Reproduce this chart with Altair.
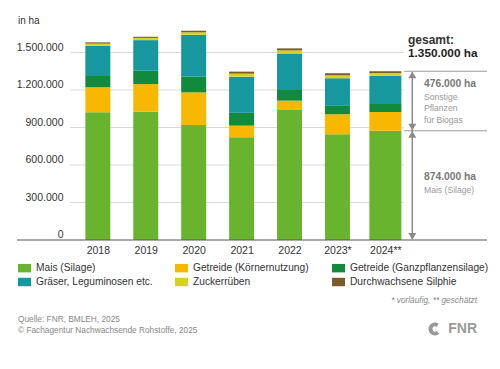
import altair as alt
import pandas as pd

# ---------------- data ----------------
years = ["2018", "2019", "2020", "2021", "2022", "2023*", "2024**"]
categories = [
    "Mais (Silage)",
    "Getreide (Körnernutzung)",
    "Getreide (Ganzpflanzensilage)",
    "Gräser, Leguminosen etc.",
    "Zuckerrüben",
    "Durchwachsene Silphie",
]
colors = ["#69b42e", "#f8b700", "#128a3b", "#17979e", "#d5d31a", "#7b5a2c"]
mais = [1022000, 1026000, 920000, 822000, 1040000, 846000, 874000]
koerner = [200000, 221000, 261000, 93000, 75000, 160000, 150000]
gps = [90000, 107000, 125000, 104000, 85000, 67000, 64000]
graeser = [242000, 245000, 336000, 288000, 293000, 221000, 227000]
zucker = [17000, 18000, 20000, 24000, 24000, 24000, 22000]
silphie = [10000, 9000, 12000, 16000, 16000, 16000, 13000]
bar_widths = [25, 25, 25, 25, 25, 25, 32]
y_ticks = [0, 300000, 600000, 900000, 1200000, 1500000]

series = [mais, koerner, gps, graeser, zucker, silphie]
rows = []
for ci, (cat, vals) in enumerate(zip(categories, series)):
    for yi, (yr, v) in enumerate(zip(years, vals)):
        rows.append({"idx": yi, "year": yr, "cat": cat, "ord": ci, "value": v, "bw": bar_widths[yi]})
df = pd.DataFrame(rows)

total_last = sum(s[-1] for s in series)
mais_last = mais[-1]

# legend is laid out column by column: reorder so rows read like the reference
legend_order = [categories[i] for i in (0, 3, 1, 4, 2, 5)]
legend_colors = [colors[i] for i in (0, 3, 1, 4, 2, 5)]

FONT = "Liberation Sans, Arial, sans-serif"

W, H = 417, 212.5
xscale = alt.Scale(domain=[-0.4766, 8.0164], nice=False, zero=False)
yscale = alt.Scale(domain=[0, 1700000], nice=False, zero=True)

year_expr = "[" + ",".join("'%s'" % y for y in years) + "][datum.value]"
num_expr = "replace(replace(format(datum.value, ',d'), ',', '.'), ',', '.')"

yaxis = alt.Axis(
    values=y_ticks,
    labelExpr=num_expr,
    grid=False, domain=False, ticks=False, tickSize=0,
    labelPadding=7, labelBaseline="alphabetic", labelOffset=-2.5,
    labelOverlap=False, labelFont=FONT, labelFontSize=10.5,
    labelColor="#333333", title=None,
)

# ---------------- layers ----------------
grid = alt.Chart(pd.DataFrame({"v": y_ticks[1:]})).mark_rule(
    color="#d9d9d9", strokeWidth=1
).encode(
    y=alt.Y("v:Q", scale=yscale, axis=yaxis),
    x=alt.value(0),
    x2=alt.value(334),
)

bars = alt.Chart(df).mark_bar(strokeWidth=0).encode(
    x=alt.X(
        "idx:Q",
        scale=xscale,
        axis=alt.Axis(
            values=list(range(len(years))),
            labelExpr=year_expr,
            grid=False, domain=False, ticks=False, tickSize=0,
            labelPadding=5, labelFlush=False, labelOverlap=False,
            labelFont=FONT, labelFontSize=10.5, labelColor="#333333",
            title=None,
        ),
    ),
    y=alt.Y("value:Q", stack="zero", scale=yscale, axis=yaxis),
    color=alt.Color(
        "cat:N",
        scale=alt.Scale(domain=legend_order, range=legend_colors),
        legend=alt.Legend(
            orient="none", legendX=-52, legendY=234,
            columns=3, gridAlign="all", columnPadding=0, rowPadding=2,
            symbolType="M-1,-0.65H1V0.65H-1Z", symbolSize=169,
            symbolStrokeWidth=0, symbolOpacity=1,
            labelFont=FONT, labelFontSize=10.2, labelColor="#333333",
            labelOffset=5, labelLimit=0, title=None, padding=0,
        ),
    ),
    order=alt.Order("ord:Q", sort="ascending"),
    size=alt.Size("bw:Q", scale=None, legend=None),
)

baseline = alt.Chart(pd.DataFrame({"v": [0]})).mark_rule(
    color="#555555", strokeWidth=1.2
).encode(y=alt.Y("v:Q", scale=yscale, axis=yaxis), x=alt.value(-53), x2=alt.value(417))

reflines = alt.Chart(pd.DataFrame({"v": [total_last, mais_last]})).mark_rule(
    color="#9a9a9a", strokeWidth=1
).encode(y=alt.Y("v:Q", scale=yscale, axis=yaxis), x=alt.value(334), x2=alt.value(417))

arrow_df = pd.DataFrame({"a": [total_last - 8000, mais_last + 8000], "b": [mais_last + 8000, 8000]})
shafts = alt.Chart(arrow_df).mark_rule(color="#8a8a8a", strokeWidth=1.5).encode(
    y=alt.Y("a:Q", scale=yscale, axis=yaxis), y2="b:Q", x=alt.value(342.3)
)
up_heads = alt.Chart(pd.DataFrame({"v": [total_last, mais_last]})).mark_point(
    shape="triangle-up", filled=True, size=64, opacity=1, color="#8a8a8a", yOffset=3.6
).encode(y=alt.Y("v:Q", scale=yscale, axis=yaxis), x=alt.value(342.3))
down_heads = alt.Chart(pd.DataFrame({"v": [mais_last, 0]})).mark_point(
    shape="triangle-down", filled=True, size=64, opacity=1, color="#8a8a8a", yOffset=-3.6
).encode(y=alt.Y("v:Q", scale=yscale, axis=yaxis), x=alt.value(342.3))

# ---------------- texts ----------------
texts = [
    # text, x, y, size, weight, color, align, style
    ("in ha", -52, -6.5, 10, "normal", "#333333", "left", "normal"),
    ("gesamt:", 338, 12.5, 12, "bold", "#333333", "left", "normal"),
    ("1.350.000 ha", 338, 25.8, 11.8, "bold", "#222222", "left", "normal"),
    ("476.000 ha", 354, 56.2, 10.3, "bold", "#777777", "left", "normal"),
    ("Sonstige", 354, 69.2, 8.6, "normal", "#999999", "left", "normal"),
    ("Pflanzen", 354, 80.8, 8.6, "normal", "#999999", "left", "normal"),
    ("für Biogas", 354, 92.5, 8.6, "normal", "#999999", "left", "normal"),
    ("874.000 ha", 354, 149.2, 10.3, "bold", "#777777", "left", "normal"),
    ("Mais (Silage)", 354, 162.5, 8.6, "normal", "#999999", "left", "normal"),
    ("* vorläufig, ** geschätzt", 407, 273.5, 8.3, "normal", "#888888", "right", "italic"),
    ("Quelle: FNR, BMLEH, 2025", -52, 292.5, 8.3, "normal", "#888888", "left", "normal"),
    ("© Fachagentur Nachwachsende Rohstoffe, 2025", -52, 303.5, 8.3, "normal", "#888888", "left", "normal"),
    ("FNR", 407, 301.5, 14, "bold", "#9a9a9a", "right", "normal"),
]
text_layers = []
for t, x, y, s, w, c, a, st in texts:
    text_layers.append(
        alt.Chart(pd.DataFrame({"t": [t]})).mark_text(
            fontSize=s, fontWeight=w, color=c, font=FONT, align=a, baseline="middle", fontStyle=st
        ).encode(text="t:N", x=alt.value(x), y=alt.value(y))
    )

logo = alt.Chart(pd.DataFrame({"t": [0]})).mark_arc(
    radius=6.5, radius2=2.6, theta=2.4, theta2=6.9, color="#9a9a9a"
).encode(x=alt.value(365), y=alt.value(301.5))

chart = alt.layer(
    grid, bars, baseline, reflines, shafts, up_heads, down_heads, logo, *text_layers
).properties(
    width=W,
    height=H,
    padding={"left": 62, "top": 19.5, "right": 5, "bottom": 121},
    autosize=alt.AutoSizeParams(type="none"),
    background="white",
).configure_view(stroke=None)

chart.save("out.html", embed_options={"renderer": "svg", "actions": False})
